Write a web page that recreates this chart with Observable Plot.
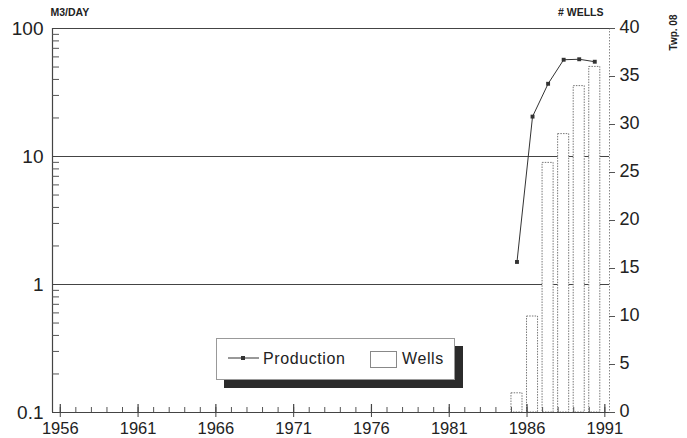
<!DOCTYPE html>
<html>
<head>
<meta charset="utf-8">
<script src="https://cdn.jsdelivr.net/npm/d3@7"></script>
<script src="https://cdn.jsdelivr.net/npm/@observablehq/plot@0.6"></script>
<style>
  html, body { margin: 0; padding: 0; background: #fff; }
  #wrap { position: relative; width: 687px; height: 438px; font-family: "Liberation Sans", Arial, sans-serif; color: #222; }
  #legend { position: absolute; left: 216px; top: 338px; width: 239px; height: 42px; background: #fff;
            border: 1px solid #999; box-shadow: 8px 8px 0 #2b2b2b; box-sizing: border-box; }
  #legend .item { position: absolute; top: 11px; font-size: 16px; letter-spacing: 0.6px; }
  #legend svg { position: absolute; }
</style>
</head>
<body>
<div id="wrap">
  <div id="chart"></div>
  <div id="legend">
    <svg style="left:11px;top:12px" width="32" height="14"><line x1="0" y1="7" x2="31" y2="7" stroke="#333" stroke-width="1"/><rect x="13" y="5" width="4" height="4" fill="#333"/></svg>
    <span class="item" style="left:46px">Production</span>
    <svg style="left:153px;top:12px" width="28" height="18"><rect x="0.5" y="0.5" width="26" height="16" fill="#fff" stroke="#888" stroke-width="1"/></svg>
    <span class="item" style="left:185px">Wells</span>
  </div>
</div>
<script>
// ---- data ----
const years = [1985, 1986, 1987, 1988, 1989, 1990];
const production = [1.5, 20.5, 37, 57, 57.5, 55];       // m3/day
const wells = [2, 10, 26, 29, 34, 36];                    // # wells
const yTicks = [0.1, 1, 10, 100];
const yMinor = [0.2,0.3,0.4,0.5,0.6,0.7,0.8,0.9, 2,3,4,5,6,7,8,9, 20,30,40,50,60,70,80,90];
const gridLines = [1, 10];
const wellTicks = [0, 5, 10, 15, 20, 25, 30, 35, 40];
const xTicks = [1956, 1961, 1966, 1971, 1976, 1981, 1986, 1991];
const xMinor = d3.range(1956, 1992);
const xDomain = [1955.5, 1991.3];
const yDomain = [0.1, 100];
const wellMax = 40;

// right axis is linear 0..40 over the same vertical span as the log production axis
const lo = Math.log10(yDomain[0]), hi = Math.log10(yDomain[1]);
const toLog = w => Math.pow(10, lo + (hi - lo) * w / wellMax);

const prodData = years.map((y, i) => ({year: y, value: production[i]}));
const wellData = years.map((y, i) => ({year: y, wells: wells[i]}));

const W = 687, H = 438, mt = 28, mb = 26, ml = 52, mr = 78;
const plotW = W - ml - mr, plotH = H - mt - mb;
const font = "Liberation Sans, Arial, sans-serif";
const barShift = 5.5; // bars/points sit just right of the year tick

const chart = Plot.plot({
  width: W, height: H,
  marginTop: mt, marginBottom: mb, marginLeft: ml, marginRight: mr,
  style: {fontFamily: font, color: "#222", background: "transparent"},
  x: {domain: xDomain},
  y: {type: "log", domain: yDomain},
  marks: [
    Plot.ruleY(gridLines, {stroke: "#444", strokeWidth: 1.2}),
    Plot.ruleY([yDomain[1]], {stroke: "#444", strokeWidth: 1.2}),
    Plot.rect(wellData, {
      x1: d => d.year - 0.355, x2: d => d.year + 0.355, dx: barShift,
      y1: () => yDomain[0], y2: d => toLog(d.wells),
      fill: "#fff", stroke: "#777", strokeWidth: 1, strokeDasharray: "1.5,1.2"
    }),
    Plot.ruleX([xDomain[0]], {stroke: "#444", strokeWidth: 1.2}),
    Plot.ruleX([xDomain[1]], {stroke: "#888", strokeWidth: 1, strokeDasharray: "1.5,1.5"}),
    Plot.ruleY([yDomain[0]], {stroke: "#444", strokeWidth: 1.2}),
    Plot.tickY(yMinor, {stroke: "#555", insetRight: plotW - 7}),
    Plot.tickX(xMinor, {stroke: "#555", insetTop: plotH - 5}),
    Plot.tickX(xTicks, {stroke: "#444", strokeWidth: 1.2, insetTop: plotH - 8}),
    Plot.axisX({ticks: xTicks, tickSize: 5, tickPadding: 5, tickFormat: d => String(d), fontSize: 16.5, label: null, stroke: "#444"}),
    Plot.axisY({anchor: "left", ticks: yTicks, tickSize: 0, tickPadding: 9, tickFormat: d => String(d), fontSize: 19, label: null}),
    // right (wells) axis
    Plot.tickY(wellTicks, {y: toLog, stroke: "#555", insetLeft: plotW - 6, dx: 6}),
    Plot.text(wellTicks, {y: toLog, text: d => String(d), frameAnchor: "right", dx: 10, dy: -1, textAnchor: "start", fontSize: 18, fill: "#222"}),
    Plot.line(prodData, {x: "year", y: "value", dx: barShift, stroke: "#333", strokeWidth: 1}),
    Plot.dot(prodData, {x: "year", y: "value", dx: barShift, symbol: "square", r: 2.2, fill: "#333", stroke: null}),
    Plot.text(["M3/DAY"], {frameAnchor: "top-left", dx: -2, dy: -20, fontSize: 10.5, fontWeight: "bold", textAnchor: "start", fill: "#222", style: "letter-spacing:1.3px"}),
    Plot.text(["# WELLS"], {frameAnchor: "top-right", dx: -6, dy: -20, fontSize: 10.5, fontWeight: "bold", textAnchor: "end", fill: "#222", style: "letter-spacing:1.8px"}),
    Plot.text(["Twp. 08"], {frameAnchor: "top-right", dx: 60, dy: 4, rotate: -90, fontSize: 10, fontWeight: "bold", textAnchor: "middle", fill: "#222", style: "letter-spacing:0.5px"})
  ]
});
document.getElementById("chart").appendChild(chart);
</script>
</body>
</html>
